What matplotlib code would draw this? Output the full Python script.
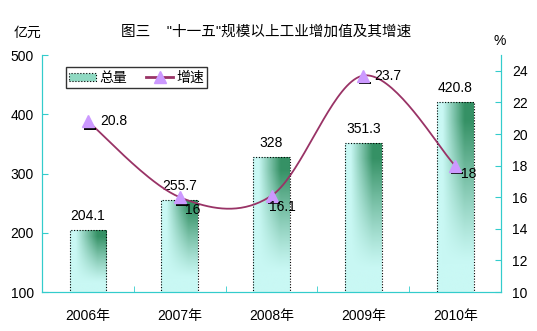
import numpy as np
import matplotlib
matplotlib.use("Agg")
from matplotlib import pyplot as plt
from matplotlib.colors import to_rgb
from matplotlib.lines import Line2D
from matplotlib.patches import Patch
from matplotlib.transforms import offset_copy

plt.rcParams['font.family'] = ['Liberation Sans', 'Noto Sans CJK SC']

years = ['2006年', '2007年', '2008年', '2009年', '2010年']
output_value = [204.1, 255.7, 328, 351.3, 420.8]   # 亿元
growth_rate = [20.8, 16, 16.1, 23.7, 18]           # %

AXIS_C = '#33cccc'
LINE_C = '#993366'
MARK_C = '#cc99ff'
LIGHT = np.array(to_rgb('#c9f8f4'))
DARK = np.array(to_rgb('#2e8c5e'))


def catmull_rom(x, y, n=40):
    # Smooth curve through all points (uniform Catmull-Rom, end points doubled)
    px = np.concatenate([[x[0]], x, [x[-1]]])
    py = np.concatenate([[y[0]], y, [y[-1]]])
    xs, ys = [], []
    t = np.linspace(0, 1, n)
    for i in range(1, len(px) - 2):
        for p, out in ((px, xs), (py, ys)):
            p0, p1, p2, p3 = p[i - 1], p[i], p[i + 1], p[i + 2]
            out.extend(0.5 * (2 * p1 + (-p0 + p2) * t
                              + (2 * p0 - 5 * p1 + 4 * p2 - p3) * t ** 2
                              + (-p0 + 3 * p1 - 3 * p2 + p3) * t ** 3))
    return np.array(xs), np.array(ys)


def bar_gradient(h=120, w=60):
    # light cyan on the left / bottom, dark green towards the top right
    xf = np.linspace(0, 1, w)[None, :]
    yf = np.linspace(1, 0, h)[:, None]
    t = np.clip((xf - 0.15) / 0.6, 0, 1)
    t = t * np.clip((yf - 0.15) / 0.75, 0, 1) ** 1.2
    t = t * 0.95
    return LIGHT[None, None, :] * (1 - t[..., None]) + DARK[None, None, :] * t[..., None]


fig = plt.figure(figsize=(5.37, 3.31), dpi=100)
ax = fig.add_axes([0.0782, 0.1178, 0.855, 0.716])
ax2 = ax.twinx()

x = np.arange(len(years))
bars = ax.bar(x, output_value, width=0.4, bottom=0, facecolor='none',
              edgecolor='black', linestyle=(0, (1, 1.5)), linewidth=0.8, zorder=2)
for b in bars:
    img = ax.imshow(bar_gradient(), extent=[b.get_x(), b.get_x() + b.get_width(), 100, b.get_height()],
                    aspect='auto', zorder=1, interpolation='bilinear')
    img.set_clip_path(b)

ax.set_xlim(-0.5, len(years) - 0.5)
ax.set_ylim(100, 500)
ax.set_yticks([100, 200, 300, 400, 500])
ax.set_xticks(x)
ax.set_xticklabels(years, fontsize=10)
ax.set_xticks(np.arange(0.5, len(years) - 1, 1), minor=True)
ax.tick_params(axis='x', which='major', length=0, pad=12)
ax.tick_params(axis='x', which='minor', length=4, direction='in', color=AXIS_C)
ax.tick_params(axis='y', length=4, direction='in', color=AXIS_C, labelsize=10, pad=6)
for s in ax.spines.values():
    s.set_color(AXIS_C)
ax.spines['top'].set_visible(False)

for xi, v in zip(x, output_value):
    ax.annotate(f'{v:g}', (xi, v), xytext=(0, 5), textcoords='offset points',
                ha='center', va='bottom', fontsize=10)

# growth rate line on the right axis, triangles with a dark base stroke
sx, sy = catmull_rom(x.astype(float), np.array(growth_rate, dtype=float))
ax2.plot(sx, sy, color=LINE_C, lw=1.3, zorder=3)
under = offset_copy(ax2.transData, fig=fig, x=1.5, y=-5.3, units='points')
ax2.plot(x, growth_rate, ls='none', marker='_', ms=9, mew=1.4, color='black',
         transform=under, zorder=4)
ax2.plot(x, growth_rate, ls='none', marker='^', ms=9, color=MARK_C,
         markeredgecolor=MARK_C, zorder=5)
ax2.set_ylim(10, 25)
ax2.set_yticks(range(10, 25, 2))
ax2.tick_params(axis='y', length=4, direction='in', color=AXIS_C, labelsize=10, pad=8)
for s in ax2.spines.values():
    s.set_color(AXIS_C)
ax2.spines['top'].set_visible(False)

label_offsets = [(9, 0), (4, -9), (-2, -8), (8, 0), (4, -6)]
for xi, v, (dx, dy) in zip(x, growth_rate, label_offsets):
    ax2.annotate(f'{v:g}', (xi, v), xytext=(dx, dy), textcoords='offset points',
                 ha='left', va='center', fontsize=10, zorder=6)

handles = [
    Patch(facecolor='#8fd9c2', edgecolor='black', linestyle=':', linewidth=0.8),
    Line2D([], [], color=LINE_C, lw=2, marker='^', ms=8,
           markerfacecolor=MARK_C, markeredgecolor=MARK_C),
]
leg = ax2.legend(handles, ['总量', '增速'], loc='upper left', bbox_to_anchor=(0.052, 0.948),
                 ncol=2, fancybox=False, edgecolor='black', fontsize=10, borderaxespad=0,
                 borderpad=0.25, handlelength=1.9, handleheight=0.45, columnspacing=1.4,
                 handletextpad=0.25)
leg.get_frame().set_linewidth(1.0)
leg.set_zorder(10)

fig.text(0.496, 0.905, '图三    "十一五"规模以上工业增加值及其增速', ha='center', va='center', fontsize=10.5)
fig.text(0.052, 0.9, '亿元', ha='center', va='center', fontsize=10)
fig.text(0.93, 0.875, '%', ha='center', va='center', fontsize=10)

fig.savefig('out.png', dpi=100)
